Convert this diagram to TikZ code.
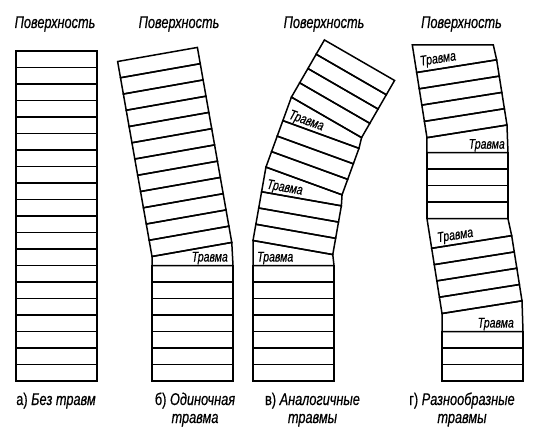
\documentclass[tikz,border=0pt]{standalone}
\usepackage{fontspec}
\usepackage{tikz}
\newfontfamily\narrowsans[FakeStretch=0.75,FakeBold=0.5]{Liberation Sans}
\newcommand{\bigfont}{\narrowsans\fontsize{17}{18}\selectfont}
\newcommand{\smallfont}{\narrowsans\itshape\fontsize{14}{15}\selectfont}
\newcommand{\colw}{81}
\newcommand{\layh}{16.5}
\tikzset{
    layer/.style={draw, line width=1.5pt, line join=miter}
}
\tikzset{
    lbl/.style={font=\smallfont, inner sep=0pt, transform shape}
}
\tikzset{
    head/.style={font=\bigfont, inner sep=0pt}
}
% n layers from y=0 in the current frame
\newcommand{\layers}[1]{%
  \foreach \k in {1,...,#1}
    \draw[layer] (0,{(\k-1)*\layh}) rectangle (\colw,{\k*\layh});
}
% injured layer: bottom at #1, left side #2, top turned by #3
\newcommand{\wedgelayer}[3]{%
  \draw[layer] (0,#1) -- (0,{#1+#2}) -- ++(#3:\colw) -- (\colw,#1) -- cycle;
}

\begin{document}
\begin{tikzpicture}[x=1pt,y=1pt]
  \useasboundingbox (0,0) rectangle (538,440);

  \node[head, anchor=base] (hA) at (55,412) {\itshape Поверхность};
  \node[head, anchor=base] (hB) at (179,412) {\itshape Поверхность};
  \node[head, anchor=base] (hC) at (324,412) {\itshape Поверхность};
  \node[head, anchor=base] (hD) at (461.5,412) {\itshape Поверхность};

  % а)
  \begin{scope}[shift={(16,59)}]
    \layers{20}
  \end{scope}

  % б)
  \begin{scope}[shift={(152,59)}]
    \layers{7}
    \wedgelayer{115.5}{9}{10}
    \node[lbl, anchor=base east] (tb) at ({\colw-5},119.5) {Травма};
    \begin{scope}[shift={(0,124.5)}, rotate=10]
      \layers{12}
    \end{scope}
  \end{scope}

  % в)
  \begin{scope}[shift={(253,59)}]
    \layers{7}
    \wedgelayer{115.5}{25}{-10}
    \node[lbl, anchor=base west] (tc1) at (4,119.5) {Травма};
    \begin{scope}[shift={(0,140.5)}, rotate=-10]
      \layers{3}
      \wedgelayer{49.5}{25}{-10}
      \node[lbl, anchor=base west] (tc2) at (4,53.5) {Травма};
      \begin{scope}[shift={(0,74.5)}, rotate=-10]
        \layers{3}
        \wedgelayer{49.5}{25}{-10}
        \node[lbl, anchor=base west] (tc3) at (4,53.5) {Травма};
        \begin{scope}[shift={(0,74.5)}, rotate=-10]
          \layers{4}
        \end{scope}
      \end{scope}
    \end{scope}
  \end{scope}

  % г)
  \begin{scope}[shift={(442,59)}]
    \layers{3}
    \wedgelayer{49.5}{18}{9}
    \node[lbl, anchor=base east] (td1) at ({\colw-9},53.5) {Травма};
    \begin{scope}[shift={(0,67.5)}, rotate=9]
      \layers{4}
      \wedgelayer{66}{30}{-9}
      \node[lbl, anchor=base west] (td2) at (7,71) {Травма};
      \begin{scope}[shift={(0,96)}, rotate=-9]
        \layers{4}
        \wedgelayer{66}{15}{9}
        \node[lbl, anchor=base east] (td3) at ({\colw-3},70) {Травма};
        \begin{scope}[shift={(0,81)}, rotate=9]
          \layers{4}
          \wedgelayer{66}{28}{-9}
          \node[lbl, anchor=base west] (td4) at (5,72) {Травма};
        \end{scope}
      \end{scope}
    \end{scope}
  \end{scope}

  \node[head, anchor=base] (capA) at (56,35) {а) \textit{Без травм}};
  \node[head, anchor=base, align=center] (capB) at (195,17) {б) \textit{Одиночная}\\\textit{травма}};
  \node[head, anchor=base, align=center] (capC) at (312.5,17) {в) \textit{Аналогичные}\\\textit{травмы}};
  \node[head, anchor=base, align=center] (capD) at (462,17) {г) \textit{Разнообразные}\\\textit{травмы}};
\end{tikzpicture}
\end{document}
